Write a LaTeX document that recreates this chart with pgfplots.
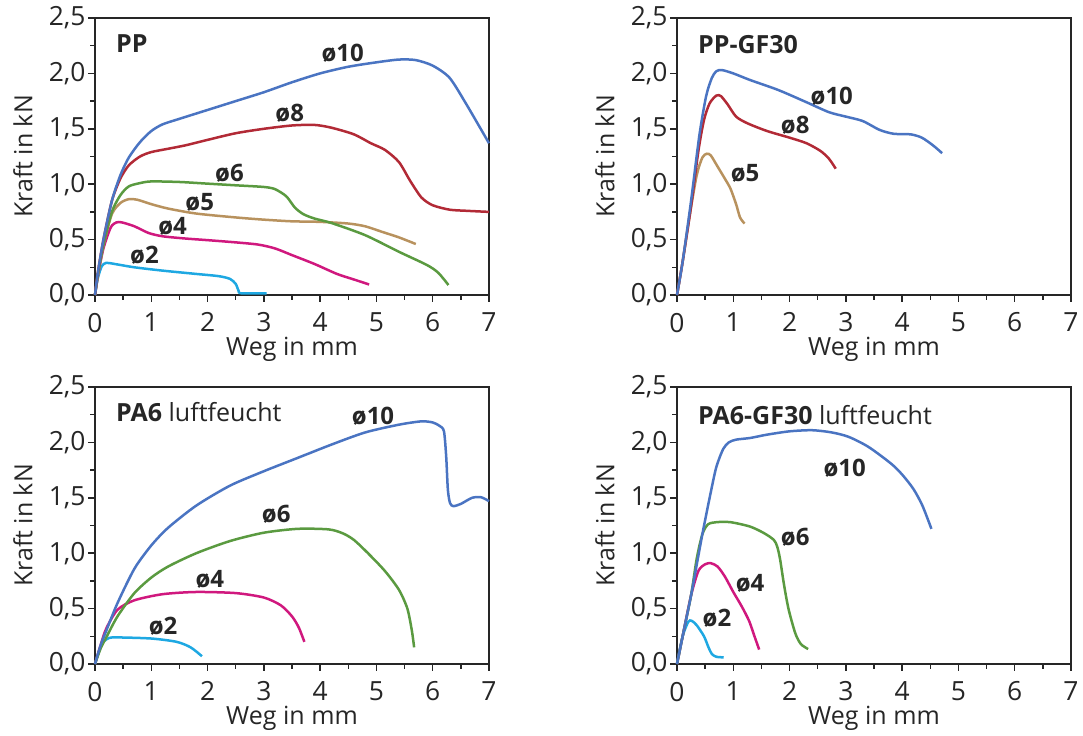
\documentclass[border=0pt]{standalone}
\usepackage{fontspec}
\setmainfont{Open Sans}
\usepackage{pgfplots}
\pgfplotsset{compat=1.18}

\definecolor{c10}{HTML}{4A74C2}
\definecolor{c8}{HTML}{B22A36}
\definecolor{c6}{HTML}{5A9A40}
\definecolor{c5}{HTML}{B8925E}
\definecolor{c4}{HTML}{D0187E}
\definecolor{c2}{HTML}{1EA8E2}
\definecolor{txt}{HTML}{262626}

\tikzset{
  curvelabel/.style={font=\fontsize{12}{14}\selectfont\bfseries, text=txt},
  paneltitle/.style={font=\fontsize{12.5}{15}\selectfont, text=txt, anchor=west},
}

\pgfplotsset{
  panel/.style={
    scale only axis, width=197pt, height=138.5pt,
    anchor=south west,
    xmin=0, xmax=7, ymin=0, ymax=2.5,
    xtick={0,...,7}, ytick={0,0.5,...,2.5},
    minor x tick num=1, minor y tick num=1,
    xtick pos=lower, ytick pos=left,
    tick align=outside,
    major tick length=3.4pt, minor tick length=2.3pt,
    tick style={line width=0.75pt, color=txt},
    axis line style={line width=0.9pt, color=txt},
    font=\fontsize{12.5}{15}\selectfont,
    tick label style={font=\fontsize{13.2}{15}\selectfont, text=txt},
    /pgf/number format/assume math mode=true,
    yticklabel style={/pgf/number format/.cd, fixed, fixed zerofill, precision=1, use comma, /tikz/.cd, xshift=2.2pt},
    xticklabel style={yshift=-2pt},
    xlabel={Weg in mm}, ylabel={Kraft in kN},
    label style={text=txt},
    xlabel style={at={(axis description cs:0.5,-0.195)}, anchor=center},
    ylabel style={at={(axis description cs:-0.183,0.5)}, anchor=center},
    clip=false,
    every axis plot/.append style={line width=1.25pt, smooth, tension=0.45, no markers},
  },
}

\begin{document}
\begin{tikzpicture}
\path[use as bounding box] (0,0) rectangle (541.5pt,367.5pt);

% ---------------- PP ----------------
\begin{axis}[panel, at={(47.5pt,220pt)}]
\addplot[c2] coordinates {(0,0)(0.05,0.15)(0.12,0.26)(0.2,0.29)(0.35,0.28)(0.7,0.25)(1.2,0.22)(1.8,0.19)(2.2,0.17)(2.4,0.145)(2.5,0.1)(2.55,0.04)(2.6,0.015)(3.05,0.015)};
\addplot[c4] coordinates {(0,0)(0.05,0.17)(0.15,0.42)(0.28,0.61)(0.38,0.655)(0.48,0.655)(0.7,0.62)(0.95,0.56)(1.2,0.53)(1.6,0.51)(2.0,0.495)(2.5,0.475)(2.9,0.455)(3.2,0.42)(3.5,0.36)(3.9,0.28)(4.3,0.19)(4.6,0.14)(4.87,0.095)};
\addplot[c5] coordinates {(0,0)(0.05,0.17)(0.15,0.45)(0.3,0.73)(0.45,0.83)(0.6,0.865)(0.75,0.86)(1.0,0.82)(1.3,0.78)(1.8,0.735)(2.5,0.70)(3.0,0.68)(3.5,0.665)(4.0,0.66)(4.5,0.645)(4.8,0.62)(5.1,0.57)(5.4,0.52)(5.7,0.46)};
\addplot[c6] coordinates {(0,0)(0.05,0.18)(0.15,0.45)(0.3,0.75)(0.45,0.9)(0.6,0.98)(0.8,1.01)(1.0,1.025)(1.5,1.02)(2.0,1.005)(2.5,0.99)(3.0,0.975)(3.2,0.955)(3.4,0.89)(3.55,0.79)(3.7,0.73)(3.9,0.69)(4.2,0.65)(4.8,0.54)(5.4,0.39)(5.9,0.27)(6.1,0.2)(6.28,0.09)};
\addplot[c8] coordinates {(0,0)(0.05,0.2)(0.15,0.5)(0.3,0.85)(0.45,1.05)(0.6,1.17)(0.8,1.25)(1.0,1.29)(1.3,1.32)(1.6,1.35)(2.0,1.40)(2.5,1.46)(3.0,1.50)(3.5,1.53)(3.9,1.535)(4.2,1.51)(4.6,1.45)(4.9,1.37)(5.15,1.31)(5.4,1.2)(5.6,1.03)(5.8,0.88)(6.0,0.81)(6.3,0.77)(6.6,0.76)(7.0,0.75)};
\addplot[c10] coordinates {(0,0)(0.05,0.2)(0.15,0.5)(0.3,0.85)(0.45,1.08)(0.6,1.24)(0.8,1.38)(1.0,1.48)(1.2,1.54)(1.5,1.59)(2.0,1.67)(2.5,1.75)(3.0,1.83)(3.5,1.92)(4.0,2.0)(4.5,2.06)(5.0,2.1)(5.4,2.125)(5.7,2.12)(6.0,2.07)(6.3,1.96)(6.6,1.72)(7.0,1.37)};
\node[paneltitle] at (axis cs:0.25,2.27) {\bfseries PP};
\node[curvelabel] at (axis cs:4.40,2.18) {ø10};
\node[curvelabel] at (axis cs:3.46,1.64) {ø8};
\node[curvelabel] at (axis cs:2.39,1.10) {ø6};
\node[curvelabel] at (axis cs:1.86,0.84) {ø5};
\node[curvelabel] at (axis cs:1.38,0.62) {ø4};
\node[curvelabel] at (axis cs:0.88,0.36) {ø2};
\end{axis}

% ---------------- PP-GF30 ----------------
\begin{axis}[panel, at={(338.5pt,220pt)}]
\addplot[c5] coordinates {(0,0)(0.1,0.3)(0.22,0.7)(0.35,1.08)(0.45,1.24)(0.53,1.275)(0.6,1.26)(0.72,1.16)(0.85,1.05)(0.95,0.96)(1.05,0.82)(1.12,0.7)(1.2,0.645)};
\addplot[c8] coordinates {(0,0)(0.1,0.3)(0.25,0.8)(0.38,1.3)(0.48,1.58)(0.58,1.73)(0.7,1.8)(0.78,1.795)(0.9,1.72)(1.05,1.61)(1.25,1.55)(1.6,1.48)(2.0,1.42)(2.3,1.37)(2.55,1.3)(2.7,1.23)(2.82,1.14)};
\addplot[c10] coordinates {(0,0)(0.1,0.3)(0.25,0.85)(0.4,1.45)(0.52,1.8)(0.62,1.96)(0.7,2.02)(0.8,2.03)(1.0,2.0)(1.3,1.94)(1.8,1.85)(2.3,1.74)(2.7,1.65)(3.0,1.61)(3.3,1.57)(3.6,1.49)(3.85,1.455)(4.15,1.45)(4.35,1.42)(4.55,1.35)(4.71,1.28)};
\node[paneltitle] at (axis cs:0.25,2.26) {\bfseries PP-GF30};
\node[curvelabel] at (axis cs:2.75,1.79) {ø10};
\node[curvelabel] at (axis cs:2.10,1.53) {ø8};
\node[curvelabel] at (axis cs:1.21,1.10) {ø5};
\end{axis}

% ---------------- PA6 ----------------
\begin{axis}[panel, at={(47.5pt,35.5pt)}]
\addplot[c2] coordinates {(0,0)(0.08,0.13)(0.15,0.2)(0.25,0.235)(0.4,0.24)(1.0,0.23)(1.45,0.2)(1.7,0.15)(1.9,0.07)};
\addplot[c4] coordinates {(0,0)(0.1,0.17)(0.2,0.32)(0.4,0.49)(0.7,0.575)(1.2,0.63)(1.8,0.65)(2.5,0.64)(3.0,0.6)(3.3,0.53)(3.5,0.43)(3.62,0.33)(3.72,0.2)};
\addplot[c6] coordinates {(0,0)(0.1,0.14)(0.2,0.24)(0.4,0.43)(0.7,0.64)(1.0,0.78)(1.3,0.88)(1.8,1.0)(2.4,1.11)(3.0,1.185)(3.6,1.22)(4.15,1.215)(4.4,1.18)(4.6,1.12)(4.85,1.0)(5.15,0.84)(5.4,0.67)(5.55,0.5)(5.63,0.3)(5.67,0.15)};
\addplot[c10] coordinates {(0,0)(0.1,0.17)(0.2,0.3)(0.4,0.55)(0.7,0.86)(1.0,1.07)(1.3,1.23)(1.8,1.43)(2.4,1.61)(3.0,1.74)(3.6,1.86)(4.2,1.98)(4.8,2.09)(5.4,2.16)(5.8,2.19)(6.0,2.18)(6.12,2.15)(6.2,2.10)(6.24,1.87)(6.27,1.57)(6.31,1.45)(6.37,1.425)(6.5,1.445)(6.7,1.5)(6.86,1.505)(7.0,1.47)};
\node[paneltitle] at (axis cs:0.25,2.27) {\bfseries PA6\mdseries\ luftfeucht};
\node[curvelabel] at (axis cs:4.94,2.24) {ø10};
\node[curvelabel] at (axis cs:3.22,1.35) {ø6};
\node[curvelabel] at (axis cs:2.04,0.76) {ø4};
\node[curvelabel] at (axis cs:1.21,0.34) {ø2};
\end{axis}

% ---------------- PA6-GF30 ----------------
\begin{axis}[panel, at={(338.5pt,35.5pt)}]
\addplot[c2] coordinates {(0,0)(0.1,0.25)(0.2,0.38)(0.26,0.39)(0.35,0.35)(0.48,0.25)(0.56,0.15)(0.62,0.09)(0.7,0.065)(0.83,0.06)};
\addplot[c4] coordinates {(0,0)(0.12,0.3)(0.25,0.62)(0.38,0.84)(0.5,0.9)(0.6,0.91)(0.72,0.88)(0.85,0.79)(1.0,0.65)(1.15,0.52)(1.28,0.39)(1.37,0.26)(1.46,0.13)};
\addplot[c6] coordinates {(0,0)(0.12,0.3)(0.25,0.62)(0.35,0.95)(0.45,1.17)(0.55,1.26)(0.7,1.28)(0.95,1.28)(1.3,1.24)(1.55,1.18)(1.72,1.12)(1.78,1.06)(1.83,0.95)(1.9,0.72)(1.98,0.5)(2.1,0.28)(2.2,0.18)(2.33,0.135)};
\addplot[c10] coordinates {(0,0)(0.12,0.3)(0.25,0.62)(0.45,1.17)(0.6,1.55)(0.7,1.78)(0.82,1.94)(0.92,2.0)(1.05,2.025)(1.3,2.04)(1.6,2.07)(2.0,2.1)(2.4,2.11)(2.75,2.09)(3.05,2.05)(3.4,1.96)(3.8,1.81)(4.0,1.71)(4.2,1.58)(4.36,1.43)(4.52,1.22)};
\node[paneltitle] at (axis cs:0.25,2.25) {\bfseries PA6-GF30\mdseries\ luftfeucht};
\node[curvelabel] at (axis cs:2.98,1.77) {ø10};
\node[curvelabel] at (axis cs:2.10,1.14) {ø6};
\node[curvelabel] at (axis cs:1.30,0.73) {ø4};
\node[curvelabel] at (axis cs:0.71,0.41) {ø2};
\end{axis}
\end{tikzpicture}
\end{document}
